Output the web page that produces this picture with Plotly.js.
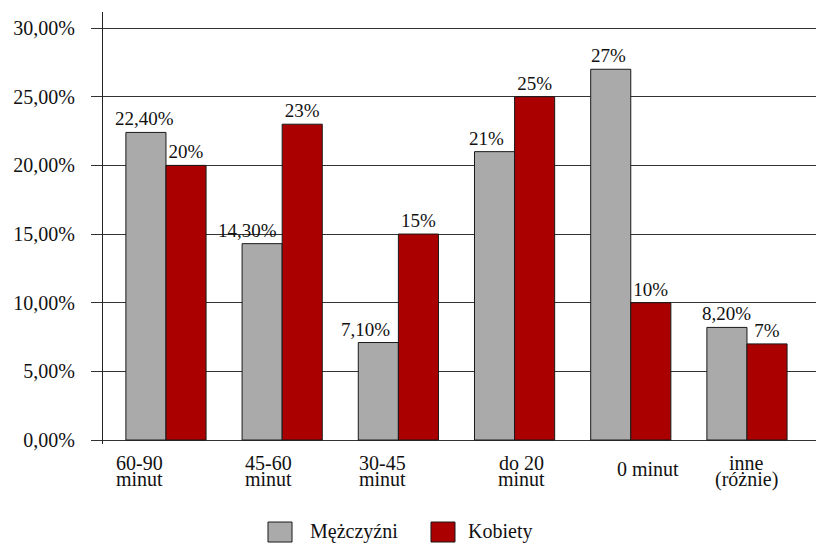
<!DOCTYPE html>
<html>
<head>
<meta charset="utf-8">
<script src="https://cdn.plot.ly/plotly-3.0.1.min.js"></script>
<style>
  html, body { margin: 0; padding: 0; background: #ffffff; }
  #chart { width: 816px; height: 544px; }
  #chart svg text { font-family: 'Liberation Serif', 'Times New Roman', serif !important; }
</style>
</head>
<body>
<div id="chart"></div>
<script>
// Czas dojazdu: udzial procentowy wg plci
var categories = ['60-90 minut', '45-60 minut', '30-45 minut', 'do 20 minut', '0 minut', 'inne (różnie)'];
var labelLine1 = ['60-90', '45-60', '30-45', 'do 20', '0 minut', 'inne'];
var labelLine2 = ['minut', 'minut', 'minut', 'minut', '', '(różnie)'];

var seriesNames = ['Mężczyźni', 'Kobiety'];
var menValues = [22.4, 14.3, 7.1, 21, 27, 8.2];
var womenValues = [20, 23, 15, 25, 10, 7];
var menLabels = ['22,40%', '14,30%', '7,10%', '21%', '27%', '8,20%'];
var womenLabels = ['20%', '23%', '15%', '25%', '10%', '7%'];

// styling
var serifFont = 'Liberation Serif';
var grayFill = '#aaaaaa';
var redFill = '#aa0000';
var outlineColor = '#1a1a1a';
var textColor = '#111111';
var catLabelShift = [-26, -14, -16, 7, 17, 0];
var menLabelShift = [-1, -15, -13, -8, -2, 0];

function barTrace(name, values, color) {
  return {
    type: 'bar',
    name: name,
    x: categories,
    y: values,
    marker: { color: color, line: { color: outlineColor, width: 1 } },
    hoverinfo: 'x+y+name',
    showlegend: false
  };
}

var menTrace = barTrace(seriesNames[0], menValues, grayFill);
var womenTrace = barTrace(seriesNames[1], womenValues, redFill);
womenTrace.text = womenLabels;
womenTrace.textposition = 'outside';
womenTrace.constraintext = 'none';
womenTrace.cliponaxis = false;
womenTrace.textfont = { family: serifFont, size: 19, color: textColor };

var chartAnnotations = [];

// value labels of the grey bars (kept above the red bars)
categories.forEach(function (c, i) {
  chartAnnotations.push({ xref: 'x', yref: 'y', x: c, y: menValues[i],
    xshift: -20 + menLabelShift[i], yshift: 1,
    text: menLabels[i], showarrow: false, xanchor: 'center', yanchor: 'bottom',
    font: { family: serifFont, size: 19, color: textColor } });
});

// category labels under the groups
categories.forEach(function (c, i) {
  var f = { family: serifFont, size: 20, color: textColor };
  if (labelLine2[i]) {
    chartAnnotations.push({ xref: 'x', yref: 'paper', x: c, y: -0.044, xshift: catLabelShift[i],
      text: labelLine1[i], showarrow: false, xanchor: 'center', yanchor: 'middle', font: f });
    chartAnnotations.push({ xref: 'x', yref: 'paper', x: c, y: -0.082, xshift: catLabelShift[i],
      text: labelLine2[i], showarrow: false, xanchor: 'center', yanchor: 'middle', font: f });
  } else {
    chartAnnotations.push({ xref: 'x', yref: 'paper', x: c, y: -0.058, xshift: catLabelShift[i],
      text: labelLine1[i], showarrow: false, xanchor: 'center', yanchor: 'middle', font: f });
  }
});

// legend below the plot
var legendColors = [grayFill, redFill];
var legendBoxX = [0.2314, 0.4600];
var legendTextX = [0.2875, 0.5090];
var chartShapes = [];
seriesNames.forEach(function (n, i) {
  chartShapes.push({ type: 'rect', xref: 'paper', yref: 'paper',
    x0: legendBoxX[i], x1: legendBoxX[i] + 0.0337, y0: -0.2269, y1: -0.1806,
    fillcolor: legendColors[i], line: { color: outlineColor, width: 1 } });
  chartAnnotations.push({ xref: 'paper', yref: 'paper', x: legendTextX[i], y: -0.2037,
    text: n, showarrow: false, xanchor: 'left', yanchor: 'middle',
    font: { family: serifFont, size: 20, color: textColor } });
});

var chartLayout = {
  width: 816,
  height: 544,
  margin: { l: 103, r: 0, t: 12, b: 100 },
  paper_bgcolor: '#ffffff',
  plot_bgcolor: '#ffffff',
  separators: ', ',
  barmode: 'group',
  bargap: 0.31,
  bargroupgap: 0,
  showlegend: false,
  font: { family: serifFont, size: 20, color: textColor },
  xaxis: {
    type: 'category',
    range: [-0.542, 5.594],
    showticklabels: false,
    showgrid: false,
    zeroline: false,
    showline: false,
    ticks: ''
  },
  yaxis: {
    range: [-0.29, 31.17],
    tick0: 0,
    dtick: 5,
    tickformat: '.2f',
    ticksuffix: '%',
    showgrid: true,
    gridcolor: '#333333',
    gridwidth: 1,
    zeroline: false,
    showline: true,
    linecolor: '#222222',
    linewidth: 1,
    ticks: 'outside',
    ticklen: 11,
    tickcolor: '#333333',
    tickwidth: 1,
    ticklabelstandoff: 12,
    tickfont: { family: serifFont, size: 20, color: textColor }
  },
  annotations: chartAnnotations,
  shapes: chartShapes
};

Plotly.newPlot('chart', [menTrace, womenTrace], chartLayout, { displayModeBar: false });
</script>
</body>
</html>
